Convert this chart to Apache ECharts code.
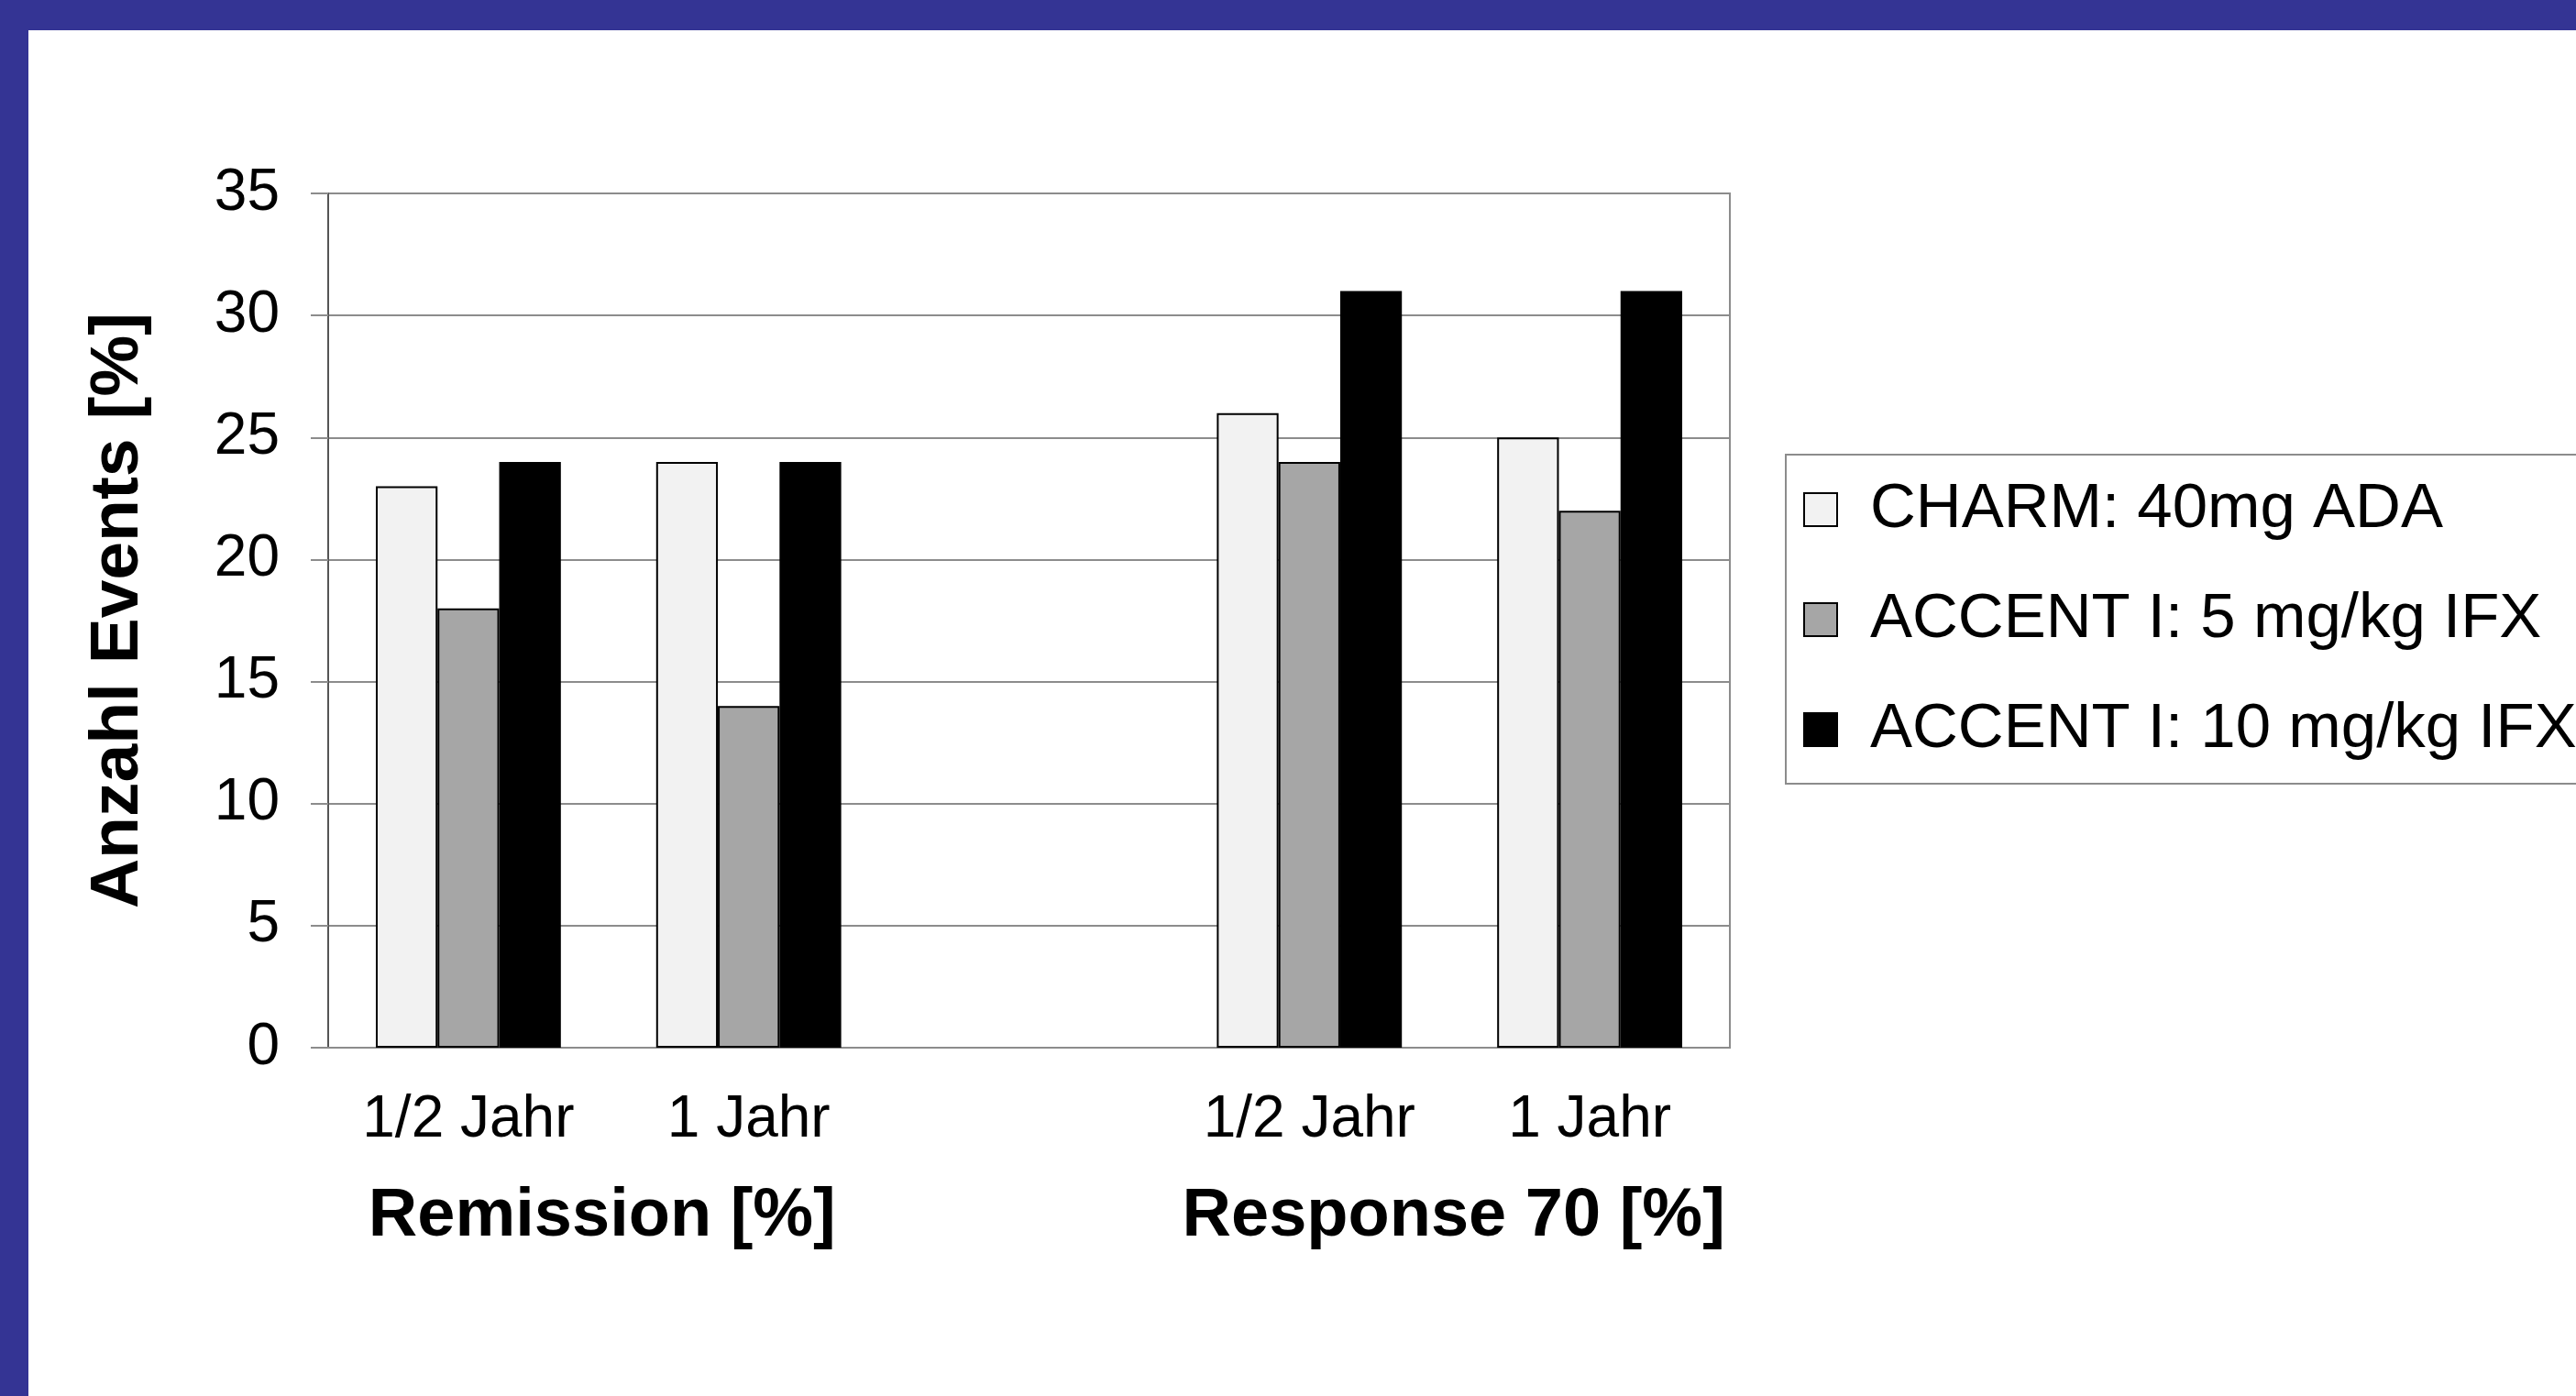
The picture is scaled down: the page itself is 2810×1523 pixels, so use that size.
<!DOCTYPE html>
<html>
<head>
<meta charset="utf-8">
<script src="https://cdn.jsdelivr.net/npm/echarts@6/dist/echarts.min.js"></script>
<style>
  html, body { margin: 0; padding: 0; width: 2810px; height: 1523px; background: #343494; overflow: hidden; }
  #chart { position: absolute; left: 31px; top: 33px; width: 2779px; height: 1490px; background: #ffffff; }
</style>
</head>
<body>
<div id="chart"></div>
<script>
// ---- data ----
const categories = ['1/2 Jahr', '1 Jahr', '', '1/2 Jahr', '1 Jahr'];
const groupLabels = ['', 'Remission [%]', '', '', 'Response 70 [%]', ''];
const seriesNames = ['CHARM: 40mg ADA', 'ACCENT I: 5 mg/kg IFX', 'ACCENT I: 10 mg/kg IFX'];
const charmADA = [23, 24, '-', 26, 25];
const accent5 = [18, 14, '-', 24, 22];
const accent10 = [24, 24, '-', 31, 31];
const yTicks = [0, 5, 10, 15, 20, 25, 30, 35];
const yAxisTitle = 'Anzahl Events [%]';

const FONT = '"Liberation Sans", Arial, sans-serif';
const colors = ['#f2f2f2', '#a6a6a6', '#000000'];
const values = [charmADA, accent5, accent10];
const groupStyleKeys = ['', 'g1', '', '', 'g2', ''];

const chart = echarts.init(document.getElementById('chart'), null, { renderer: 'canvas' });
const groupTextBase = { fontFamily: FONT, fontSize: 74, fontWeight: 'bold', color: '#000' };
chart.setOption({
  animation: false,
  backgroundColor: '#ffffff',
  grid: { left: 327, top: 178, width: 1529, height: 932, show: true, borderColor: '#8c8c8c', borderWidth: 2, containLabel: false },
  legend: {
    orient: 'vertical',
    left: 1917, top: 463,
    padding: [20, 20, 19, 19],
    itemWidth: 36, itemHeight: 36, itemGap: 40,
    icon: 'rect',
    borderColor: '#8c8c8c', borderWidth: 2,
    backgroundColor: '#ffffff',
    textStyle: { fontFamily: FONT, fontSize: 69, color: '#000', lineHeight: 80, padding: [0, 0, 0, 31] },
    data: seriesNames
  },
  xAxis: [
    {
      type: 'category', data: categories, position: 'bottom',
      axisLine: { show: true, lineStyle: { color: '#8c8c8c', width: 2 } },
      axisTick: { show: false },
      axisLabel: { fontFamily: FONT, fontSize: 64, color: '#000', margin: 47, interval: 0 },
      splitLine: { show: false }
    },
    {
      type: 'value', min: 0, max: 5, interval: 1, position: 'bottom',
      axisLine: { show: false }, axisTick: { show: false }, splitLine: { show: false },
      axisLabel: {
        fontFamily: FONT, fontSize: 74, fontWeight: 'bold', color: '#000', margin: 148,
        showMinLabel: true, showMaxLabel: true,
        formatter: function (v) {
          const i = Math.round(v);
          return groupLabels[i] ? '{' + groupStyleKeys[i] + '|' + groupLabels[i] + '}' : '';
        },
        rich: {
          g1: Object.assign({ padding: [0, 14, 0, 0] }, groupTextBase),
          g2: Object.assign({ padding: [0, 0, 0, 9] }, groupTextBase)
        }
      }
    }
  ],
  yAxis: {
    type: 'value', min: yTicks[0], max: yTicks[yTicks.length - 1], interval: 5,
    name: yAxisTitle, nameLocation: 'middle', nameGap: 191,
    nameTextStyle: { fontFamily: FONT, fontSize: 75, fontWeight: 'bold', color: '#000', padding: [0, 0, 0, 22] },
    axisLine: { show: true, lineStyle: { color: '#555', width: 2 } },
    axisTick: { show: true, inside: false, length: 19, lineStyle: { color: '#8c8c8c', width: 2 } },
    axisLabel: { fontFamily: FONT, fontSize: 64, color: '#000', margin: 53 },
    splitLine: { show: true, lineStyle: { color: '#8c8c8c', width: 2 } }
  },
  series: seriesNames.map((name, i) => ({
    name: name,
    type: 'bar',
    xAxisIndex: 0,
    data: values[i],
    barGap: '0%',
    barCategoryGap: '34%',
    itemStyle: { color: colors[i], borderColor: '#000', borderWidth: 2 }
  }))
});
</script>
</body>
</html>
